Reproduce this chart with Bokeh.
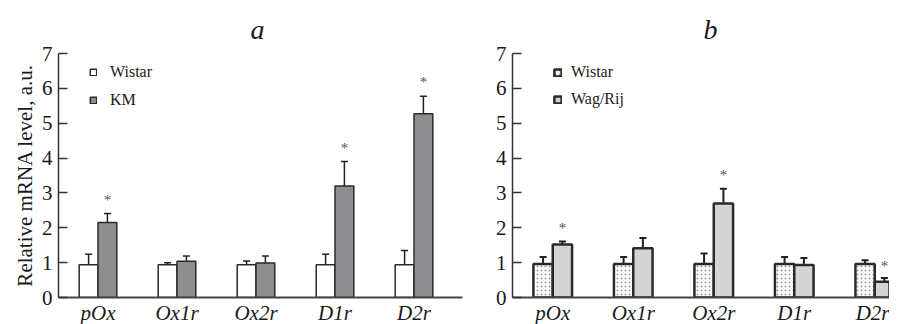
from bokeh.plotting import figure
from bokeh.models import (Range1d, FixedTicker, Whisker, TeeHead, ColumnDataSource,
                          Legend, LegendItem, Label)
from bokeh.layouts import row
from bokeh.embed import file_html
from bokeh.resources import INLINE
from bokeh.core.properties import value

# ---------------- data ----------------
categories = ["pOx", "Ox1r", "Ox2r", "D1r", "D2r"]
y_ticks = [0, 1, 2, 3, 4, 5, 6, 7]

# panel a
a_wistar = [0.94, 0.94, 0.94, 0.94, 0.94]
a_wistar_err = [0.30, 0.06, 0.11, 0.30, 0.41]
a_km = [2.15, 1.04, 0.99, 3.20, 5.27]
a_km_err = [0.26, 0.15, 0.20, 0.70, 0.50]
a_stars = [2.80, None, None, 4.30, 6.19]

# panel b
b_wistar = [0.96, 0.96, 0.96, 0.96, 0.96]
b_wistar_err = [0.20, 0.20, 0.30, 0.20, 0.11]
b_wag = [1.52, 1.41, 2.70, 0.93, 0.45]
b_wag_err = [0.09, 0.30, 0.42, 0.20, 0.11]
b_stars = [1.98, None, 3.52, None, 0.91]

Y_LABEL = "Relative mRNA level, a.u."

FONT = "Liberation Serif"
PX_PER_UNIT = 244 / 7.0     # vertical scale: 0..7 spans 244 px
FRAME_H = 297               # frame reaches the top of the canvas (room for the panel letter)
NBSP = "\u00a0"


def make_panel(title, title_x, ctrl, ctrl_err, exp, exp_err, stars, names,
               exp_color, line_w, err_w, hatch, frame_w, border_left, border_right,
               x_end, bar_w, legend_loc, glyph_size, legend_standoff, legend_spacing,
               y_label=None):
    p = figure(frame_width=frame_w, frame_height=FRAME_H, output_backend="svg",
               toolbar_location=None,
               x_range=Range1d(0, x_end), y_range=Range1d(0, FRAME_H / PX_PER_UNIT),
               min_border_left=border_left, min_border_right=border_right,
               min_border_top=0, min_border_bottom=27)
    p.outline_line_color = None
    p.xgrid.visible = False
    p.ygrid.visible = False
    p.background_fill_color = "white"
    p.border_fill_color = "white"

    centers = [i + 0.5 for i in range(len(categories))]
    xc = [c - bar_w / 2 for c in centers]
    xe = [c + bar_w / 2 for c in centers]

    src_c = ColumnDataSource(dict(x=xc, top=ctrl,
                                  upper=[v + e for v, e in zip(ctrl, ctrl_err)],
                                  lower=[v - e for v, e in zip(ctrl, ctrl_err)]))
    src_e = ColumnDataSource(dict(x=xe, top=exp,
                                  upper=[v + e for v, e in zip(exp, exp_err)],
                                  lower=[v - e for v, e in zip(exp, exp_err)]))

    kw_c = dict(fill_color="white", line_color="#2a2a2a", line_width=line_w)
    if hatch:
        kw_c.update(hatch_pattern="dot", hatch_color="#9a9a9a", hatch_scale=4,
                    hatch_weight=1)
    rc = p.vbar(x="x", top="top", bottom=0, width=bar_w, source=src_c, **kw_c)
    re = p.vbar(x="x", top="top", bottom=0, width=bar_w, source=src_e,
                fill_color=exp_color, line_color="#2a2a2a", line_width=line_w)

    for src in (src_c, src_e):
        w = Whisker(source=src, base="x", upper="upper", lower="lower",
                    dimension="height", line_color="#222222", line_width=err_w,
                    upper_head=TeeHead(size=7, line_color="#222222", line_width=err_w),
                    lower_head=TeeHead(size=7, line_color="#222222", line_width=err_w))
        p.add_layout(w)

    sx = [x for x, s in zip(xe, stars) if s is not None]
    sy = [s for s in stars if s is not None]
    p.text(x=sx, y=sy, text=["*"] * len(sx), text_align="center",
           text_baseline="middle", text_font=value(FONT), text_font_size="15px",
           text_color="#555555")

    # axes
    ya = p.yaxis[0]
    ya.ticker = FixedTicker(ticks=y_ticks)
    ya.bounds = (y_ticks[0], y_ticks[-1])
    ya.major_tick_in = 9
    ya.major_tick_out = 0
    ya.minor_tick_line_color = None
    ya.axis_line_color = "#333333"
    ya.axis_line_width = 1.5
    ya.major_tick_line_color = "#333333"
    ya.major_tick_line_width = 1.5
    ya.major_label_text_font = FONT
    ya.major_label_text_font_size = "21px"
    ya.major_label_text_color = "#1a1a1a"
    ya.major_label_standoff = 6
    if y_label:
        # trailing no-break spaces keep the label centred on the 0..7 span
        ya.axis_label = y_label + NBSP * 10
        ya.axis_label_text_font = FONT
        ya.axis_label_text_font_size = "21px"
        ya.axis_label_text_font_style = "normal"
        ya.axis_label_text_color = "#1a1a1a"
        ya.axis_label_standoff = 2

    xa = p.xaxis[0]
    xa.ticker = FixedTicker(ticks=centers)
    xa.major_label_overrides = {c: n for c, n in zip(centers, categories)}
    xa.major_tick_line_color = None
    xa.major_tick_in = 0
    xa.major_tick_out = 0
    xa.minor_tick_line_color = None
    xa.minor_tick_out = 0
    xa.axis_line_color = "#444444"
    xa.axis_line_width = 2
    xa.major_label_text_font = FONT
    xa.major_label_text_font_style = "italic"
    xa.major_label_text_font_size = "21px"
    xa.major_label_text_color = "#1a1a1a"
    xa.major_label_standoff = 3

    legend = Legend(items=[LegendItem(label=names[0], renderers=[rc]),
                           LegendItem(label=names[1], renderers=[re])],
                    location=legend_loc, padding=0, margin=0,
                    glyph_width=glyph_size, glyph_height=glyph_size,
                    label_height=20, spacing=legend_spacing,
                    label_standoff=legend_standoff,
                    label_text_font=FONT, label_text_font_size="16px",
                    label_text_color="#1a1a1a",
                    border_line_color=None, background_fill_alpha=0)
    p.add_layout(legend)

    p.add_layout(Label(x=title_x, y=7.69, text=title, text_align="center",
                       text_baseline="alphabetic", text_font=FONT,
                       text_font_style="italic", text_font_size="28px",
                       text_color="#1a1a1a"))
    return p


pa = make_panel("a", 2.52, a_wistar, a_wistar_err, a_km, a_km_err, a_stars,
                ["Wistar", "KM"], "#8e8e90", 1.5, 1.5, False,
                frame_w=404, border_left=58, border_right=13, x_end=404 / 79,
                bar_w=0.238, legend_loc=(31, 187), glyph_size=8,
                legend_standoff=13, legend_spacing=8,
                y_label=Y_LABEL)

pb = make_panel("b", 2.46, b_wistar, b_wistar_err, b_wag, b_wag_err, b_stars,
                ["Wistar", "Wag/Rij"], "#d4d4d6", 2.5, 2, True,
                frame_w=377, border_left=37, border_right=0, x_end=377 / 80.5,
                bar_w=0.24, legend_loc=(41, 188), glyph_size=9,
                legend_standoff=9, legend_spacing=7)

layout = row(pa, pb)
open("out.html", "w").write(file_html(layout, INLINE))
